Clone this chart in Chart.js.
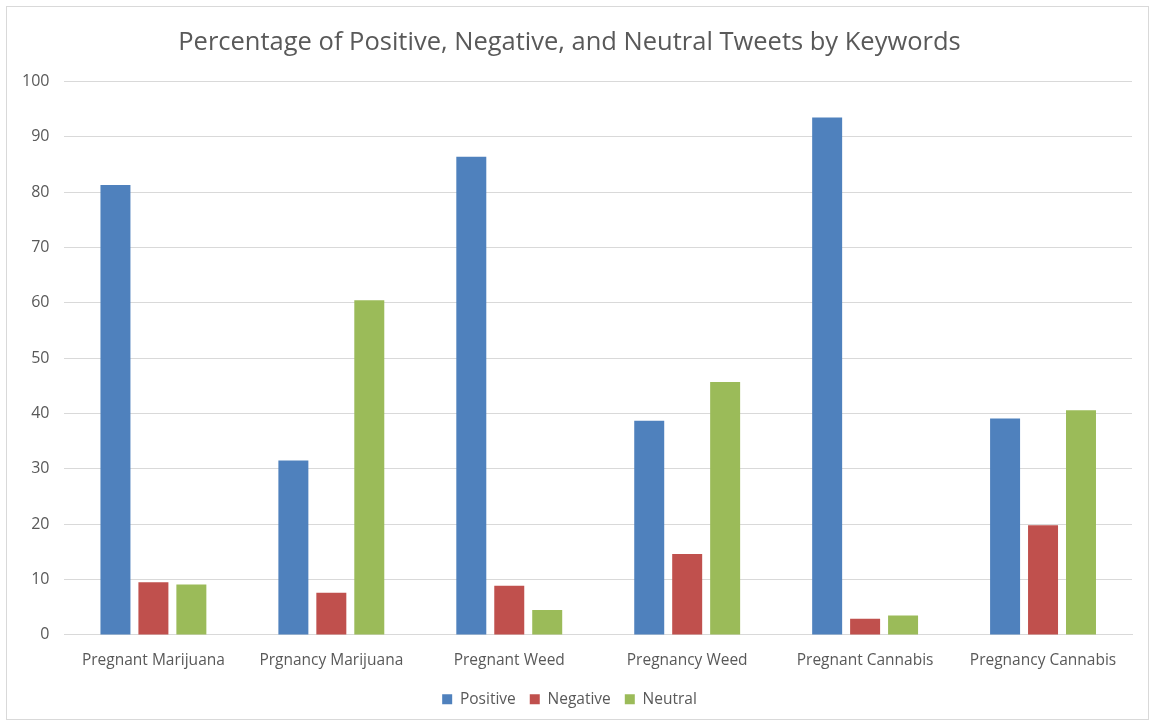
<!DOCTYPE html>
<html lang="en">
<head>
  <meta charset="UTF-8">
  <title>Tweets by Keywords</title>
  <script src="https://cdn.jsdelivr.net/npm/chart.js"></script>
  <style>
    body { margin: 0; background: #ffffff; }
    .frame {
      position: absolute; left: 6px; top: 6px; width: 1143px; height: 714px;
      border: 1px solid #d9d9d9; box-sizing: border-box; background: #fff;
    }
    canvas { display: block; }
  </style>
</head>
<body>
  <div class="frame">
    <canvas id="tweetsChart" width="1141" height="712"></canvas>
  </div>

  <script>
    // Chart data
    var keywords = ['Pregnant Marijuana', 'Prgnancy Marijuana', 'Pregnant Weed', 'Pregnancy Weed', 'Pregnant Cannabis', 'Pregnancy Cannabis'];
    var positive = [81.3, 31.5, 86.4, 38.7, 93.5, 39.1];
    var negative = [9.5, 7.6, 8.9, 14.6, 2.9, 19.8];
    var neutral = [9.1, 60.5, 4.5, 45.7, 3.5, 40.6];
    var yTicks = [0, 10, 20, 30, 40, 50, 60, 70, 80, 90, 100];

    Chart.defaults.font.family = "'Open Sans', 'Liberation Sans', sans-serif";
    Chart.defaults.color = '#595959';

    var ctx = document.getElementById('tweetsChart').getContext('2d');
    var tweetsChart = new Chart(ctx, {
      type: 'bar',
      data: {
        labels: keywords,
        datasets: [
          { label: 'Positive', data: positive, backgroundColor: '#4f81bd' },
          { label: 'Negative', data: negative, backgroundColor: '#c0504d' },
          { label: 'Neutral', data: neutral, backgroundColor: '#9bbb59' }
        ]
      },
      options: {
        responsive: false,
        animation: false,
        categoryPercentage: 0.64,
        barPercentage: 0.79,
        layout: { padding: { left: 0, right: 16, top: 0, bottom: 2 } },
        plugins: {
          title: {
            display: true,
            text: 'Percentage of Positive, Negative, and Neutral Tweets by Keywords',
            font: { size: 25.5, weight: 'normal' },
            color: '#595959',
            padding: { top: 20, bottom: 24 }
          },
          legend: {
            position: 'bottom',
            labels: { boxWidth: 10, boxHeight: 10, font: { size: 15.5 }, padding: 14 }
          },
          tooltip: { enabled: false }
        },
        scales: {
          x: {
            grid: { display: false },
            border: { color: '#d9d9d9' },
            ticks: { font: { size: 15.5 }, maxRotation: 0, padding: 8 }
          },
          y: {
            min: 0,
            max: 100,
            afterBuildTicks: function (axis) {
              axis.ticks = yTicks.map(function (v) { return { value: v }; });
            },
            grid: { color: '#d9d9d9', drawTicks: false },
            border: { display: false },
            ticks: { font: { size: 16 }, padding: 15 }
          }
        }
      }
    });
  </script>
</body>
</html>
